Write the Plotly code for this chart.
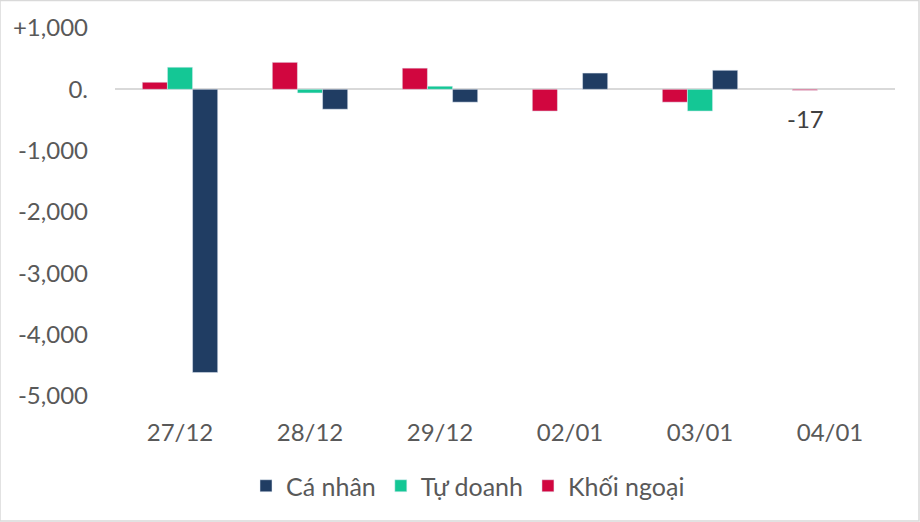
import plotly.graph_objects as go

categories = ["27/12", "28/12", "29/12", "02/01", "03/01", "04/01"]
ca_nhan = [-4620, -325, -210, 265, 310, None]
tu_doanh = [360, -60, 50, 0, -355, None]
khoi_ngoai = [115, 440, 345, -355, -210, -17]

tick_vals = [1000, 0, -1000, -2000, -3000, -4000, -5000]
tick_text = ["+1,000", "0.", "-1,000", "-2,000", "-3,000", "-4,000", "-5,000"]

FONT = "Lato, Carlito, 'Open Sans', sans-serif"
TXT = "#595959"
FS = 24

fig = go.Figure()
fig.add_trace(go.Bar(name="Khối ngoại", x=categories, y=khoi_ngoai, marker_color="#D1063F"))
fig.add_trace(go.Bar(name="Tự doanh", x=categories, y=tu_doanh, marker_color="#14C795"))
fig.add_trace(go.Bar(name="Cá nhân", x=categories, y=ca_nhan, marker_color="#203D63"))

fig.add_annotation(x=categories[5], y=khoi_ngoai[5], text=f"{khoi_ngoai[5]:,}",
                   showarrow=False, xshift=-25, yshift=-28,
                   font=dict(family=FONT, size=FS, color="#404040"))

fig.update_layout(
    width=920, height=522,
    margin=dict(l=115, r=25, t=28, b=106, autoexpand=False),
    paper_bgcolor="white", plot_bgcolor="white",
    barmode="group", bargap=0.42, bargroupgap=0,
    font=dict(family=FONT, size=FS, color=TXT),
    legend=dict(orientation="h", traceorder="reversed",
                xref="container", x=468/920, xanchor="center",
                yref="container", y=(522-486)/522, yanchor="middle",
                font=dict(size=25, color=TXT), itemwidth=30),
    xaxis=dict(showgrid=False, showline=False, ticks="", automargin=False,
               tickfont=dict(size=FS, color=TXT)),
    yaxis=dict(range=[-5330, 1000], tickvals=tick_vals, ticktext=tick_text,
               showgrid=False, zeroline=True, zerolinecolor="#D9D9D9", zerolinewidth=2,
               showline=False, ticks="", ticklabelstandoff=26, automargin=False,
               tickfont=dict(size=FS, color=TXT)),
    shapes=[dict(type="rect", xref="paper", yref="paper", x0=-115/780, x1=1+24/780,
                 y0=-105/388, y1=1+27.5/388, line=dict(color="#D9D9D9", width=1.5))],
)

fig.write_html("out.html", config={"displayModeBar": False},
               post_script="document.body.style.margin='0';")
